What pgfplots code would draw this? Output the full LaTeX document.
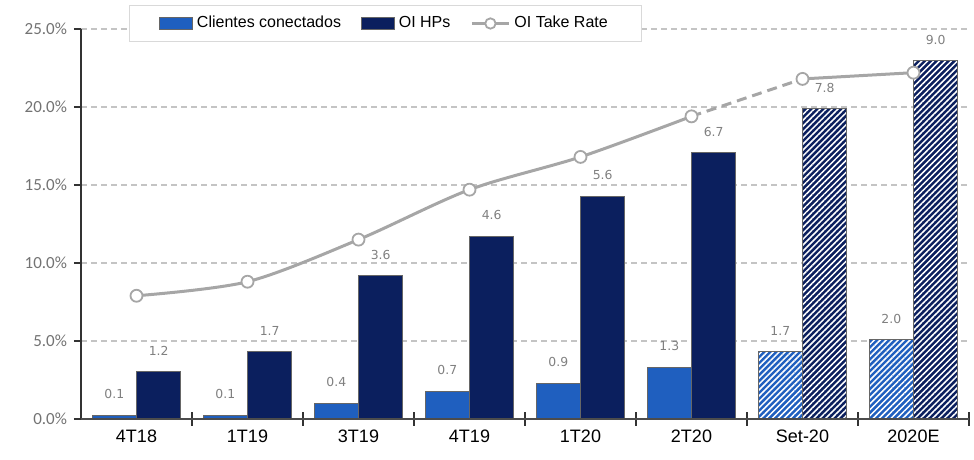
\documentclass[border=0pt]{standalone}
\usepackage{pgfplots}
\pgfplotsset{compat=1.18}
\usepackage{fontspec}
\setmainfont{Liberation Sans}
\newfontfamily\carlito{Carlito}
\newfontfamily\dejavu{DejaVu Sans}
\usetikzlibrary{patterns.meta}

\definecolor{clientes}{HTML}{1F5FBF}
\definecolor{hps}{HTML}{0B1F5E}
\definecolor{rate}{HTML}{A6A6A6}
\definecolor{gridc}{HTML}{C4C4C4}
\definecolor{lbl}{HTML}{808080}

\pgfplotsset{
  base/.style={scale only axis, width=444pt, height=195pt,
    xmin=-0.5, xmax=7.5, clip=false},
  stripes/.style={postaction={pattern={Lines[angle=45,distance=2.1pt,line width=0.75pt]}, pattern color=white}},
  % left and right bar of each category; labels follow the bar
  leftbar/.style={ybar, bar width=0.4, bar shift=-0.2, draw=black!60, line width=0.5pt,
    every node near coord/.append style={xshift=-11.1pt}},
  rightbar/.style={ybar, bar width=0.4, bar shift=0.2, draw=black!60, line width=0.5pt,
    every node near coord/.append style={xshift=11.1pt}},
}

\begin{document}
\begin{tikzpicture}
\useasboundingbox (-40.5pt,-20.5pt) rectangle (446.5pt,209.5pt);

% percentage scale: grid, left axis and tick labels
\begin{axis}[base, ymin=0, ymax=25, ytick={0,5,...,25},
  /pgf/number format/assume math mode=true,
  yticklabel={\pgfmathprintnumber[fixed,fixed zerofill,precision=1]{\tick}\%},
  ymajorgrids, grid style={gridc, line width=0.6pt, dash pattern=on 3pt off 2pt},
  axis x line=none, axis y line*=left,
  y axis line style={black!80, line width=1pt},
  ytick style={black!80, line width=0.8pt},
  tick align=outside, major tick length=3.5pt,
  yticklabel style={font=\carlito\fontsize{8.5}{10}\selectfont, text=black!55},
  xtick=\empty]
\end{axis}

% bars in millions (secondary, hidden scale)
\begin{axis}[base, ymin=0, ymax=9.804, hide axis,
  nodes near coords,
  every node near coord/.append style={font=\dejavu\fontsize{6.2}{7}\selectfont, text=lbl, yshift=4.5pt},
  /pgf/number format/.cd, fixed, fixed zerofill, precision=1, assume math mode=true]
\addplot[leftbar, fill=clientes]
  coordinates {(0,0.1) (1,0.1) (2,0.4) (3,0.7) (4,0.9) (5,1.3)};
\addplot[rightbar, fill=hps]
  coordinates {(0,1.2) (1,1.7) (2,3.6) (3,4.6) (4,5.6) (5,6.7)};
\addplot[leftbar, fill=clientes, stripes]
  coordinates {(6,1.7) (7,2.0)};
\addplot[rightbar, fill=hps, stripes]
  coordinates {(6,7.8) (7,9.0)};
\end{axis}

% take rate line, category axis and legend
\begin{axis}[base, ymin=0, ymax=25,
  axis y line=none, axis x line*=bottom,
  x axis line style={black!70, line width=1pt},
  xtick={0,...,7},
  xticklabels={4T18,1T19,3T19,4T19,1T20,2T20,Set-20,2020E},
  major x tick style={draw=none},
  minor xtick={0.5,1.5,...,7.5},
  minor x tick style={black!80, line width=1pt},
  minor tick length=7pt, tick align=center,
  xticklabel style={font=\fontsize{9}{11}\selectfont, text=black},
  legend columns=-1,
  legend style={at={(0.3429,1.0141)}, anchor=center, draw=black!15, fill=white,
    inner xsep=15pt, inner ysep=3.5pt, font=\fontsize{8}{9.5}\selectfont,
    /tikz/every even column/.append style={column sep=8pt}},
  ]
\addlegendimage{legend image code/.code={\draw[fill=clientes, draw=black!60] (0pt,-3.2pt) rectangle (16.5pt,3.2pt);}}
\addlegendentry{Clientes conectados}
\addlegendimage{legend image code/.code={\draw[fill=hps, draw=black!60] (0pt,-3.2pt) rectangle (16.5pt,3.2pt);}}
\addlegendentry{OI HPs}
\addlegendimage{legend image code/.code={\draw[rate, line width=1.5pt] (0pt,0pt) -- (18.5pt,0pt); \draw[rate, fill=white, line width=0.9pt] (9.25pt,0pt) circle (2.6pt);}}
\addlegendentry{OI Take Rate}

\addplot[rate, line width=1.5pt, smooth, forget plot]
  coordinates {(0,7.9) (1,8.8) (2,11.5) (3,14.7) (4,16.8) (5,19.4)};
\addplot[rate, line width=1.5pt, dash pattern=on 5pt off 3pt, forget plot]
  coordinates {(5,19.4) (6,21.8)};
\addplot[rate, line width=1.5pt, smooth, forget plot]
  coordinates {(6,21.8) (7,22.2)};
\addplot[only marks, mark=*, mark size=3pt, forget plot,
  mark options={fill=white, draw=rate, line width=0.9pt}]
  coordinates {(0,7.9) (1,8.8) (2,11.5) (3,14.7) (4,16.8) (5,19.4) (6,21.8) (7,22.2)};
\end{axis}
\end{tikzpicture}
\end{document}
